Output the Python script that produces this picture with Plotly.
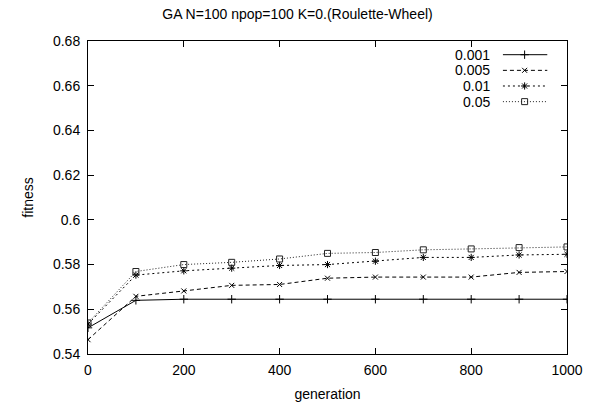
import plotly.graph_objects as go

generation = [0, 100, 200, 300, 400, 500, 600, 700, 800, 900, 1000]
series_names = ["0.001", "0.005", "0.01", "0.05"]
fit_0001 = [0.5517, 0.5640, 0.5645, 0.5645, 0.5645, 0.5645, 0.5645, 0.5645, 0.5645, 0.5645, 0.5645]
fit_0005 = [0.5464, 0.5658, 0.5682, 0.5707, 0.5711, 0.5739, 0.5744, 0.5744, 0.5744, 0.5765, 0.5769]
fit_001 = [0.5534, 0.5753, 0.5772, 0.5784, 0.5796, 0.5800, 0.5815, 0.5832, 0.5832, 0.5843, 0.5846]
fit_005 = [0.5539, 0.5769, 0.5800, 0.5810, 0.5825, 0.5850, 0.5854, 0.5866, 0.5870, 0.5876, 0.5879]
x_ticks = [0, 200, 400, 600, 800, 1000]
y_ticks = [0.54, 0.56, 0.58, 0.6, 0.62, 0.64, 0.66, 0.68]
y_tick_labels = ["0.54", "0.56", "0.58", "0.6", "0.62", "0.64", "0.66", "0.68"]

styles = [
    dict(dash="solid", symbol="cross-thin-open", color="#000000", size=6),
    dict(dash="4px,3px", symbol="x-thin-open", color="#000000", size=5),
    dict(dash="2px,3px", symbol="asterisk-open", color="#000000", size=6),
    dict(dash="1px,2px", symbol="square-open", color="#222222", size=6),
]
all_series = [fit_0001, fit_0005, fit_001, fit_005]

FONT = "Liberation Sans, Arial, sans-serif"

fig = go.Figure()
for name, ys, st in zip(series_names, all_series, styles):
    fig.add_trace(go.Scatter(
        x=generation, y=ys, name=name, mode="lines+markers",
        line=dict(color=st["color"], width=1, dash=st["dash"]),
        marker=dict(symbol=st["symbol"], size=st["size"], color=st["color"],
                    line=dict(color=st["color"], width=1)),
        showlegend=False,
    ))

# gnuplot-style key: label text on the left, sample line on the right
W, H = 595, 412
ml, mr, mt, mb = 88, 21, 41, 51
pw, ph = W - ml - mr, H - mt - mb
key_rows = [55, 71, 87, 103]
for i, (name, st) in enumerate(zip(series_names, styles)):
    yp = 1 - (key_rows[i] - mt) / ph
    x0 = (509 - ml) / pw
    x1 = (554 - ml) / pw
    xm = (531 - ml) / pw
    fig.add_annotation(x=(498 - ml) / pw, y=yp, xref="paper", yref="paper",
                       text=name, showarrow=False, xanchor="right", yanchor="middle",
                       font=dict(size=14, color="#000000", family=FONT))
    fig.add_shape(type="line", xref="paper", yref="paper", x0=x0, x1=x1, y0=yp, y1=yp,
                  line=dict(color=st["color"], width=1, dash=st["dash"]))
    fig.add_trace(go.Scatter(
        x=[xm], y=[yp], xaxis="x2", yaxis="y2", mode="markers", showlegend=False,
        marker=dict(symbol=st["symbol"], size=st["size"], color=st["color"],
                    line=dict(color=st["color"], width=1)),
        hoverinfo="skip",
    ))

axis_common = dict(showline=True, linecolor="#000000", linewidth=1, mirror="ticks",
                   ticks="inside", ticklen=6, tickcolor="#000000", showgrid=False,
                   zeroline=False, tickfont=dict(size=14, color="#000000", family=FONT))

fig.update_layout(
    width=W, height=H,
    margin=dict(l=ml, r=mr, t=mt, b=mb),
    paper_bgcolor="white", plot_bgcolor="white",
    title=dict(text="GA N=100 npop=100 K=0.(Roulette-Wheel)", x=0.5, xanchor="center",
               y=1 - 14 / H, yanchor="middle",
               font=dict(size=14, color="#000000", family=FONT)),
    xaxis=dict(range=[0, 1000], tickvals=x_ticks, ticklabelstandoff=3,
               title=dict(text="generation", standoff=12,
                          font=dict(size=14, color="#000000", family=FONT)),
               **axis_common),
    yaxis=dict(range=[0.54, 0.68], tickvals=y_ticks, ticktext=y_tick_labels,
               ticklabelstandoff=4,
               title=dict(text="fitness", standoff=16,
                          font=dict(size=14, color="#000000", family=FONT)),
               **axis_common),
    xaxis2=dict(range=[0, 1], overlaying="x", visible=False),
    yaxis2=dict(range=[0, 1], overlaying="y", visible=False),
    showlegend=False,
)

fig.write_html("out.html")
